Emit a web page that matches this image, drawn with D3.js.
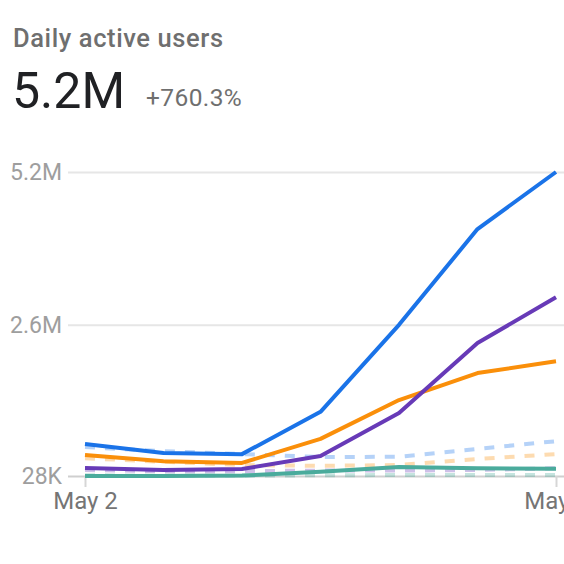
<!DOCTYPE html>
<html>
<head>
<meta charset="utf-8">
<script src="https://cdn.jsdelivr.net/npm/d3@7"></script>
<style>
  html, body { margin: 0; padding: 0; background: #fff; }
  svg { display: block; font-family: Roboto, "Noto Sans", sans-serif; }
</style>
</head>
<body>
<svg id="chart" width="564" height="564"></svg>
<script>
// days shown on the x axis (only first and last get a label)
var days = ["May 2", "May 3", "May 4", "May 5", "May 6", "May 7", "May 8"];
var xLabels = ["May 2", "May 8"];

// current period, in users
var blueNow   = [572000, 420000, 400000, 1120000, 2600000, 4230000, 5200000];
var orangeNow = [385000, 280000, 250000, 660000, 1320000, 1780000, 1980000];
var purpleNow = [164000, 130000, 147000, 368000, 1100000, 2290000, 3070000];
var tealNow   = [28000, 30000, 35000, 100000, 180000, 160000, 150000];

// previous period (dashed)
var bluePrev   = [520000, 450000, 400000, 350000, 355000, 490000, 620000];
var orangePrev = [330000, 270000, 215000, 200000, 215000, 317000, 400000];
var purplePrev = [130000, 110000, 110000, 120000, 120000, 130000, 160000];
var tealPrev   = [40000, 35000, 35000, 40000, 45000, 45000, 45000];

var yTicks = [28000, 2600000, 5200000];
var yTickLabels = ["28K", "2.6M", "5.2M"];

var colors = ["#1a73e8", "#fa8f0a", "#673ab7", "#4aab9c"];

var svg = d3.select("#chart");

var x = d3.scalePoint().domain(days).range([85, 556]);
var y = d3.scaleLinear().domain([28000, 5200000]).range([476, 172]);

// header
svg.append("text").attr("x", 13).attr("y", 47)
    .style("font-size", "25.5px").style("font-weight", 500).style("letter-spacing", "0.6px")
    .attr("fill", "#6f6f6f")
    .text("Daily active users");
svg.append("text").attr("x", 12).attr("y", 108)
    .style("font-size", "50px").attr("fill", "#202124")
    .text("5.2M");
svg.append("text").attr("x", 146).attr("y", 106)
    .style("font-size", "24.5px").style("letter-spacing", "0.4px").attr("fill", "#6f6f6f")
    .text("+760.3%");

// y grid + labels
var yAxis = d3.axisLeft(y).tickValues(yTicks)
    .tickFormat(function(d, i){ return yTickLabels[i]; })
    .tickSize(-(564 - 68)).tickPadding(6);

var gy = svg.append("g").attr("transform", "translate(68,0)").call(yAxis);
gy.select(".domain").remove();
gy.selectAll(".tick line").attr("stroke", function(d){ return d === 28000 ? "#cfcfcf" : "#e6e6e6"; })
    .attr("stroke-width", 2);
gy.selectAll(".tick text").attr("fill", "#9e9e9e").style("font-size", "23px")
    .style("font-family", "Roboto, sans-serif");

// x axis
var xAxis = d3.axisBottom(x).tickValues([days[0], days[days.length - 1]])
    .tickFormat(function(d, i){ return xLabels[i]; })
    .tickSize(11).tickPadding(5);
var gx = svg.append("g").attr("transform", "translate(0,476)").call(xAxis);
gx.select(".domain").remove();
gx.selectAll(".tick line").attr("stroke", "#d6d6d6").attr("stroke-width", 2);
gx.selectAll(".tick text").attr("fill", "#757575").style("font-size", "24px")
    .style("font-family", "Roboto, sans-serif");

var line = d3.line()
    .x(function(d, i){ return x(days[i]); })
    .y(function(d){ return y(d); });

var prev = [bluePrev, orangePrev, purplePrev, tealPrev];
var now = [blueNow, orangeNow, purpleNow, tealNow];

prev.forEach(function(series, i){
    svg.append("path").datum(series)
        .attr("d", line).attr("fill", "none")
        .attr("stroke", colors[i]).attr("stroke-opacity", 0.32)
        .attr("stroke-width", 4).attr("stroke-dasharray", "10,10");
});

// teal drawn last so it sits on top near the baseline
[0, 1, 2, 3].forEach(function(i){
    svg.append("path").datum(now[i])
        .attr("d", line).attr("fill", "none")
        .attr("stroke", colors[i]).attr("stroke-width", 4)
        .attr("stroke-linejoin", "round");
});
</script>
</body>
</html>
